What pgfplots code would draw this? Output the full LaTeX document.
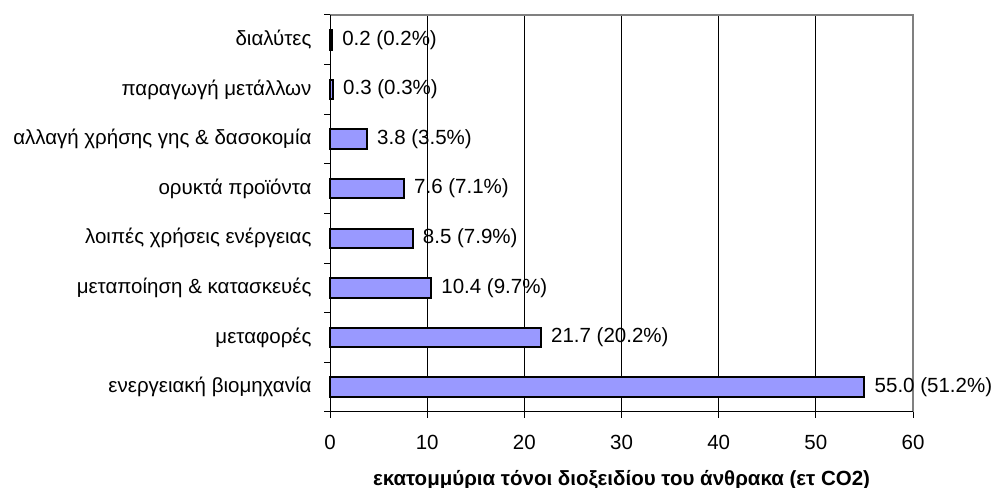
\documentclass[border=0pt]{standalone}
\usepackage{pgfplots}
\pgfplotsset{compat=1.18}
\usepackage{fontspec}
\setmainfont{Liberation Sans}
\definecolor{barfill}{HTML}{9999FF}
\definecolor{bordergray}{HTML}{808080}
\newcommand{\lab}{\fontsize{20.5bp}{24bp}\selectfont}
\begin{document}
\begin{tikzpicture}[x=1bp,y=1bp]
\useasboundingbox (0,0) rectangle (994,488);
\begin{axis}[
  at={(330bp,76bp)}, anchor=south west,
  scale only axis, width=583bp, height=397bp,
  xmin=0, xmax=60, ymin=-0.5, ymax=7.5,
  xtick={0,10,...,60},
  ytick={0,...,7},
  yticklabels={ενεργειακή βιομηχανία, μεταφορές, μεταποίηση \& κατασκευές, λοιπές χρήσεις ενέργειας, ορυκτά προϊόντα, αλλαγή χρήσης γης \& δασοκομία, παραγωγή μετάλλων, διαλύτες},
  minor ytick={-0.5,0.5,...,7.5},
  tick align=outside,
  xtick pos=bottom, ytick pos=left,
  major tick length=6bp, minor tick length=6bp,
  major y tick style={draw=none},
  minor y tick style={black, line width=1bp},
  major x tick style={black, line width=1bp},
  xmajorgrids,
  major grid style={black, line width=0.8bp},
  axis line style={draw=none},
  /pgf/number format/assume math mode=true,
  ticklabel style={font=\lab},
  xticklabel style={anchor=center, yshift=-24bp},
  yticklabel style={anchor=east, xshift=-9bp},
  xlabel={\textbf{εκατομμύρια τόνοι διοξειδίου του άνθρακα (ετ CO2)}},
  xlabel style={font=\lab, at={(rel axis cs:0.5,0)}, anchor=center, yshift=-68bp},
  clip=false,
]
\addplot[xbar, bar width=19.5bp, fill=barfill, draw=black, line width=2bp,
  nodes near coords, point meta=explicit symbolic,
  every node near coord/.append style={anchor=west, font=\lab, black, xshift=6bp}]
  coordinates {
  (55.0,0) [55.0 (51.2\%)]
  (21.7,1) [21.7 (20.2\%)]
  (10.4,2) [10.4 (9.7\%)]
  (8.5,3) [8.5 (7.9\%)]
  (7.6,4) [7.6 (7.1\%)]
  (3.8,5) [3.8 (3.5\%)]
  (0.3,6) [0.3 (0.3\%)]
  (0.2,7) [0.2 (0.2\%)]
  };
\draw[bordergray, line width=2bp] (rel axis cs:0,1) -- (rel axis cs:1,1) -- (rel axis cs:1,0);
\draw[black, line width=1bp] (rel axis cs:0,1) -- (rel axis cs:0,0) -- (rel axis cs:1,0);
\end{axis}
\end{tikzpicture}
\end{document}
